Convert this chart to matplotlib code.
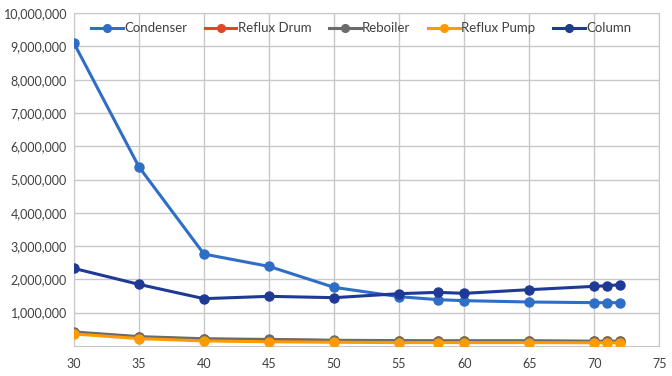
import numpy as np
import matplotlib.pyplot as plt
from matplotlib.ticker import FuncFormatter

x = [30, 35, 40, 45, 50, 55, 58, 60, 65, 70, 71, 72]

condenser = [9100000, 5380000, 2760000, 2390000, 1760000, 1480000,
             1390000, 1360000, 1320000, 1300000, 1300000, 1300000]
reflux_drum = [400000, 260000, 200000, 185000, 160000, 150000,
               145000, 145000, 145000, 135000, 135000, 135000]
reboiler = [420000, 280000, 215000, 195000, 170000, 160000,
            155000, 155000, 155000, 140000, 140000, 140000]
reflux_pump = [360000, 220000, 150000, 125000, 110000, 100000,
               100000, 100000, 100000, 95000, 95000, 95000]
column = [2330000, 1850000, 1420000, 1490000, 1450000, 1570000,
          1610000, 1580000, 1690000, 1790000, 1810000, 1840000]

series = [
    ('Condenser', condenser, '#2F6EC6'),
    ('Reflux Drum', reflux_drum, '#DE4A1C'),
    ('Reboiler', reboiler, '#6B6B6B'),
    ('Reflux Pump', reflux_pump, '#FF9A00'),
    ('Column', column, '#1F3996'),
]

plt.rcParams['font.family'] = ['Lato', 'DejaVu Sans']

fig = plt.figure(figsize=(6.72, 3.76), dpi=100)
ax = fig.add_axes([0.110, 0.080, 0.871, 0.885])

for name, vals, c in series:
    ax.plot(x, vals, color=c, lw=2.2, marker='o', ms=6.5, label=name, zorder=3)

ax.set_xlim(30, 75)
ax.set_ylim(0, 10000000)
ax.set_xticks(np.arange(30, 80, 5))
ax.set_yticks(np.arange(1000000, 10000001, 1000000))
ax.yaxis.set_major_formatter(FuncFormatter(lambda v, p: f'{int(v):,}'))
ax.grid(True, color='#C8C8C8', lw=1.0, zorder=0)
for s in ax.spines.values():
    s.set_color('#C8C8C8')
ax.tick_params(length=0, labelsize=9, colors='#404040')
ax.tick_params(axis='y', pad=5)
ax.tick_params(axis='x', pad=9)

ax.legend(loc='upper center', bbox_to_anchor=(0.4906, 1.0), ncol=5, frameon=False,
          fontsize=9.5, handlelength=2.4, columnspacing=1.35, handletextpad=0.1,
          borderaxespad=0.3, markerscale=0.85, labelcolor='#404040')

fig.savefig('out.png', dpi=100)
